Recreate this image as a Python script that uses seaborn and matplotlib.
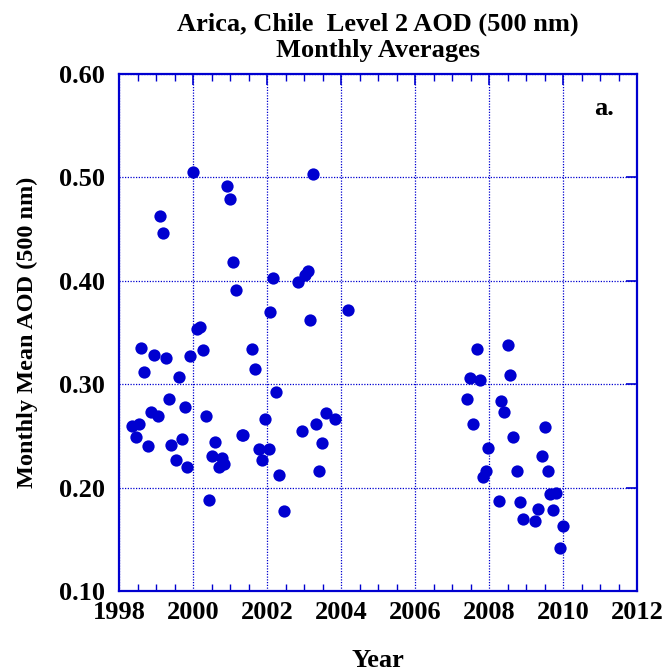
import matplotlib
matplotlib.use("Agg")
import matplotlib.pyplot as plt
from matplotlib.ticker import MultipleLocator, FormatStrFormatter
import seaborn as sns
import pandas as pd

# Monthly mean AOD at 500 nm, Arica (decimal year, AOD)
years = [
    1998.36, 1998.45, 1998.53, 1998.60, 1998.68, 1998.77, 1998.87, 1998.95,
    1999.04, 1999.10, 1999.18, 1999.26, 1999.34, 1999.41, 1999.54, 1999.61,
    1999.69, 1999.78, 1999.84, 1999.92, 2000.00, 2000.12, 2000.19, 2000.27,
    2000.35, 2000.42, 2000.50, 2000.59, 2000.69, 2000.78, 2000.85, 2000.93,
    2001.01, 2001.09, 2001.16, 2001.31, 2001.36, 2001.59, 2001.67, 2001.78,
    2001.86, 2001.94, 2002.04, 2002.09, 2002.17, 2002.25, 2002.33, 2002.45,
    2002.83, 2002.94, 2003.03, 2003.11, 2003.17, 2003.25, 2003.33, 2003.41,
    2003.49, 2003.60, 2003.84, 2004.18,
    2007.41, 2007.49, 2007.56, 2007.68, 2007.75, 2007.83, 2007.92, 2007.98,
    2008.26, 2008.33, 2008.41, 2008.50, 2008.57, 2008.64, 2008.76, 2008.84,
    2008.92, 2009.23, 2009.31, 2009.42, 2009.50, 2009.58, 2009.65, 2009.74,
    2009.81, 2009.93, 2010.00,
]
aod = [
    0.260, 0.249, 0.262, 0.335, 0.312, 0.240, 0.273, 0.328,
    0.269, 0.463, 0.446, 0.325, 0.286, 0.241, 0.227, 0.307,
    0.247, 0.278, 0.220, 0.327, 0.505, 0.353, 0.355, 0.333,
    0.269, 0.188, 0.231, 0.244, 0.220, 0.229, 0.223, 0.492,
    0.479, 0.418, 0.391, 0.251, 0.251, 0.334, 0.315, 0.237,
    0.227, 0.266, 0.237, 0.370, 0.403, 0.292, 0.212, 0.177,
    0.399, 0.255, 0.406, 0.409, 0.362, 0.503, 0.262, 0.216,
    0.243, 0.272, 0.266, 0.372,
    0.286, 0.306, 0.262, 0.334, 0.304, 0.210, 0.216, 0.238,
    0.187, 0.284, 0.273, 0.338, 0.309, 0.249, 0.216, 0.186,
    0.170, 0.168, 0.179, 0.231, 0.259, 0.216, 0.194, 0.178,
    0.195, 0.142, 0.163,
]

x_ticks = [1998, 2000, 2002, 2004, 2006, 2008, 2010, 2012]
y_ticks = [0.10, 0.20, 0.30, 0.40, 0.50, 0.60]

df = pd.DataFrame({"Year": years, "AOD": aod})

sns.set_style("white")
plt.rcParams["font.family"] = ["Liberation Serif", "DejaVu Serif"]
plt.rcParams["font.weight"] = "bold"
plt.rcParams["text.color"] = "black"
plt.rcParams["axes.labelcolor"] = "black"
plt.rcParams["xtick.color"] = "black"
plt.rcParams["ytick.color"] = "black"

blue = "#0000d0"
fig = plt.figure(figsize=(6.65, 6.71), dpi=100)
ax = fig.add_axes([0.179, 0.119, 0.779, 0.771])

sns.scatterplot(data=df, x="Year", y="AOD", ax=ax, color=blue, s=78,
                edgecolor=blue, linewidth=0, zorder=3)

ax.set_xlim(1998, 2012)
ax.set_ylim(0.10, 0.60)
ax.set_xticks(x_ticks)
ax.set_yticks(y_ticks)
ax.xaxis.set_minor_locator(MultipleLocator(0.5))
ax.yaxis.set_major_formatter(FormatStrFormatter("%.2f"))

ax.grid(True, which="major", color=blue, linestyle=(0, (1, 1.2)), linewidth=0.9)
for sp in ax.spines.values():
    sp.set_color(blue)
    sp.set_linewidth(1.6)

ax.tick_params(axis="both", which="major", direction="in", length=8, width=1.2,
               color=blue, labelcolor="black", top=True, right=True, labelsize=19)
ax.tick_params(axis="x", which="major", pad=7)
ax.tick_params(axis="y", which="major", pad=10)
ax.tick_params(axis="x", which="minor", direction="in", length=5, width=1.0,
               color=blue, top=True, bottom=True)
for lab in ax.get_xticklabels() + ax.get_yticklabels():
    lab.set_fontweight("bold")

ax.set_xlabel("Year", fontsize=19, fontweight="bold", labelpad=18)
ax.set_ylabel("Monthly Mean AOD (500 nm)", fontsize=17.5, fontweight="bold", labelpad=15)
ax.set_title("Arica, Chile  Level 2 AOD (500 nm)\nMonthly Averages",
             fontsize=19, fontweight="bold", linespacing=1.15, pad=12)
ax.text(0.955, 0.955, "a.", transform=ax.transAxes, ha="right", va="top",
        fontsize=19, fontweight="bold")

fig.savefig("out.png", dpi=100)
